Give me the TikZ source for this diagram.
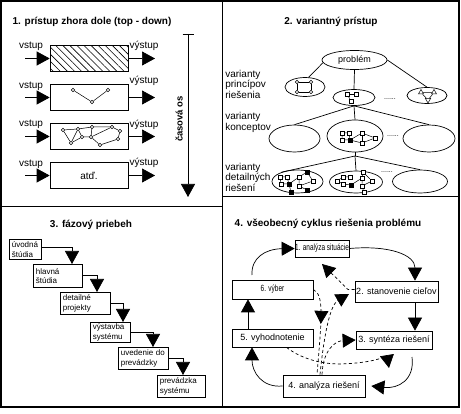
\documentclass[tikz,border=0pt]{standalone}
\usepackage{graphicx}
\usepackage{fontspec}
\setmainfont{Liberation Sans}
\usetikzlibrary{arrows.meta}
\usetikzlibrary{shapes.geometric}
\usetikzlibrary{patterns.meta}
\usetikzlibrary{decorations.markings}
\tikzset{
  bigtip/.style={-{Triangle[length=13pt,width=14pt]}},
  ->-/.style={decoration={
    markings,
    mark=at position .42 with {\arrow{Triangle[length=13pt,width=14pt]}}},postaction={decorate}},
  title/.style={font=\fontsize{10}{12}\selectfont\bfseries, inner sep=0pt},
  lbl/.style={font=\fontsize{10}{10.5}\selectfont, inner sep=0pt},
  blk/.style={draw, fill=white, minimum width=78pt, minimum height=26pt, inner sep=0pt, font=\fontsize{10}{11}\selectfont},
  dot/.style={circle, draw, fill=white, inner sep=0pt, minimum size=3.5pt, line width=0.5pt},
  sq/.style={rectangle, draw, fill=white, inner sep=0pt, minimum size=4pt, line width=0.5pt},
  fsq/.style={sq, fill=black},
  tri/.style={regular polygon, regular polygon sides=3, draw, fill=white, inner sep=0pt, minimum size=6pt, line width=0.5pt},
  oval/.style={ellipse, draw, inner sep=0pt, font=\fontsize{9}{10}\selectfont},
  phase/.style={draw, align=left, anchor=north west, inner xsep=2.5pt, inner ysep=0pt, font=\fontsize{8}{9.5}\selectfont},
  cyc/.style={draw, inner sep=0pt, font=\fontsize{9}{10}\selectfont},
  dsh/.style={dashed, dash pattern=on 3pt off 2.5pt},
  dotsep/.style={inner sep=0pt, font=\fontsize{7}{8}\selectfont}
}
\newcommand{\narrowtext}[1]{\scalebox{0.72}[1]{#1}}

\begin{document}
\begin{tikzpicture}[x=1pt,y=-1pt,line width=0.7pt]
  \useasboundingbox (0,0) rectangle (461,414);

  % frame
  \draw[line width=2pt] (1,1) rectangle (459,407);
  \draw (222,1) -- (222,407);
  \draw (1,206.5) -- (222,206.5);
  \draw (222,196.5) -- (459,196.5);

  % 1. top - down
  \node[title] (t1) at (92,22) {1. prístup zhora dole (top - down)};

  \node[blk, pattern={Lines[angle=-45,distance=5pt,line width=0.6pt]}] (box1) at (89,58.5) {};
  \node[blk] (box2) at (89,97.5) {};
  \node[blk] (box3) at (89,136.5) {};
  \node[blk] (box4) at (89,175.5) {atď.};

  \coordinate (in1) at (25,58.5);
  \coordinate (in2) at (25,97.5);
  \coordinate (in3) at (25,136.5);
  \coordinate (in4) at (25,175.5);
  \coordinate (out1) at (155,58.5);
  \coordinate (out2) at (155,97.5);
  \coordinate (out3) at (155,136.5);
  \coordinate (out4) at (155,175.5);

  \draw[bigtip] (in1) -- (box1);
  \draw[bigtip] (in2) -- (box2);
  \draw[bigtip] (in3) -- (box3);
  \draw[bigtip] (in4) -- (box4);
  \draw[bigtip] (box1) -- (out1);
  \draw[bigtip] (box2) -- (out2);
  \draw[bigtip] (box3) -- (out3);
  \draw[bigtip] (box4) -- (out4);

  \node[lbl] (vin1) at (31,46) {vstup};
  \node[lbl] (vin2) at (31,86) {vstup};
  \node[lbl] (vin3) at (31,124) {vstup};
  \node[lbl] (vin4) at (31,164) {vstup};
  \node[lbl] (vout1) at (144,46) {výstup};
  \node[lbl] (vout2) at (144,81) {výstup};
  \node[lbl] (vout3) at (144,125) {výstup};
  \node[lbl] (vout4) at (144,163) {výstup};

  % simple net
  \node[dot] (ga) at (73,90) {};
  \node[dot] (gb) at (108,90) {};
  \node[dot] (gc) at (92,102) {};
  \draw[line width=0.5pt] (ga) -- (gc) -- (gb);

  % tangled net
  \node[dot] (h1) at (63,130) {};
  \node[dot] (h2) at (78,129) {};
  \node[dot] (h3) at (92,127) {};
  \node[dot] (h4) at (112,127) {};
  \node[dot] (h5) at (120,131) {};
  \node[dot] (h6) at (118,139) {};
  \node[dot] (h7) at (100,145) {};
  \node[dot] (h8) at (71,143) {};
  \node[dot] (h9) at (82,137) {};
  \node[dot] (h10) at (91,137) {};
  \draw[line width=0.5pt] (h1) -- (h2) -- (h3) -- (h4) -- (h5) -- (h6) -- (h7);
  \draw[line width=0.5pt] (h1) -- (h8) -- (h2) -- (h9) -- (h10) -- (h4);
  \draw[line width=0.5pt] (h3) -- (h10) -- (h7);
  \draw[line width=0.5pt] (h8) -- (h9);

  % time axis
  \coordinate (ttop) at (188,34);
  \coordinate (tbot) at (188,197);
  \draw ([xshift=-5.5pt]ttop) -- ([xshift=5.5pt]ttop);
  \draw[bigtip] (ttop) -- (tbot);
  \node[title, rotate=90, font=\fontsize{9.5}{11}\selectfont\bfseries] (tlabel) at (179,119) {časová os};

  % 2. variants
  \node[title] (t2) at (331,22) {2. variantný prístup};

  \node[oval, minimum width=65pt, minimum height=19pt] (prob) at (354.5,60) {problém};
  \node[oval, minimum width=40pt, minimum height=19pt] (ua) at (305,87) {};
  \node[oval, minimum width=42pt, minimum height=16pt] (ub) at (354,97.5) {};
  \node[oval, minimum width=40pt, minimum height=16pt] (uc) at (427,95.5) {};
  \node[oval, minimum width=51pt, minimum height=27pt] (ka) at (294.5,138.5) {};
  \node[oval, minimum width=56pt, minimum height=32pt] (kb) at (355,136) {};
  \node[oval, minimum width=52pt, minimum height=27pt] (kc) at (429,138.5) {};
  \node[oval, minimum width=51pt, minimum height=23pt] (da) at (297.5,181.5) {};
  \node[oval, minimum width=53pt, minimum height=22pt] (db) at (356,182) {};
  \node[oval, minimum width=55pt, minimum height=23pt] (dc) at (420,181.5) {};

  \draw (prob.185) -- (ua.70);
  \draw (prob.south) -- (ub.north);
  \draw (prob.east) -- (uc.north);
  \draw (ub.south) -- (ka.north);
  \draw (ub.south) -- (kb.north);
  \draw (ub.south) -- (kc.north);
  \coordinate (fork) at (355,156);
  \draw (kb.south) -- (fork);
  \draw (fork) -- (da.150);
  \draw (fork) -- (db.north);
  \draw (fork) -- (dc.north);

  \node[dotsep] (dots1) at (390,99) {......};
  \node[dotsep] (dots2) at (393,136) {......};
  \node[dotsep] (dots3) at (387,172) {......};

  \node[lbl, anchor=west, align=left] (vp) at (225,84) {varianty\\princípov\\riešenia};
  \node[lbl, anchor=west, align=left] (vk) at (225,122.5) {varianty\\konceptov};
  \node[lbl, anchor=west, align=left] (vd) at (225,177) {varianty\\detailných\\riešení};

  % principles
  \node[dot] (pa) at (297,82) {};
  \node[dot] (pb) at (311,82) {};
  \node[dot] (pc) at (297,92) {};
  \node[dot] (pd) at (311,92) {};
  \draw[line width=0.5pt] (pa) -- (pb) -- (pd) -- (pc) -- (pa);
  \node[sq] (sa) at (347,94) {};
  \node[sq] (sb) at (356,94) {};
  \node[sq] (sc) at (351,101) {};
  \draw[line width=0.5pt] (sa) -- (sb);
  \draw[line width=0.5pt] (sa) -- (sc);
  \node[tri] (ta) at (421,92.5) {};
  \node[tri] (tb) at (434,92.5) {};
  \node[tri, shape border rotate=180] (tc) at (428,100) {};
  \draw[line width=0.5pt] (ta) -- (tb) -- (tc) -- (ta);

  % concept
  \node[sq] (k1) at (342,133) {};
  \node[sq] (k2) at (349,133) {};
  \node[sq] (k3) at (342,140) {};
  \node[fsq] (k4) at (350,140) {};
  \node[sq] (k5) at (362,133) {};
  \node[sq] (k6) at (362,143) {};
  \node[sq] (k7) at (375,138) {};
  \draw[line width=0.5pt] (k1) -- (k2) -- (k4) -- (k3) -- (k1);
  \draw[line width=0.5pt] (k4) -- (k5) -- (k7) -- (k6) -- (k4);
  \draw[line width=0.5pt] (k5) -- (k6);

  % detailed
  \node[sq] (q1) at (280,177) {};
  \node[sq] (q2) at (287,177) {};
  \node[sq] (q3) at (281,184) {};
  \node[fsq] (q4) at (289,184) {};
  \node[sq] (q5) at (299,177) {};
  \node[fsq] (q6) at (307,172) {};
  \node[sq] (q7) at (299,186) {};
  \node[sq] (q8) at (313,181) {};
  \node[fsq] (q9) at (291,192) {};
  \node[fsq] (q10) at (307,190) {};
  \draw[line width=0.5pt] (q1) -- (q2) -- (q4) -- (q3) -- (q1);
  \draw[line width=0.5pt] (q4) -- (q5) -- (q6) -- (q8) -- (q7) -- (q5);
  \draw[line width=0.5pt] (q4) -- (q9);
  \draw[line width=0.5pt] (q7) -- (q10);

  \node[sq] (r1) at (337,181) {};
  \node[sq] (r2) at (343,177) {};
  \node[sq] (r3) at (350,177) {};
  \node[sq] (r4) at (343,184) {};
  \node[fsq] (r5) at (351,185) {};
  \node[sq] (r6) at (362,178) {};
  \node[sq] (r7) at (363,172) {};
  \node[sq] (r8) at (362,186) {};
  \node[sq] (r9) at (372,181) {};
  \node[sq] (r10) at (364,192) {};
  \draw[line width=0.5pt] (r1) -- (r2) -- (r3);
  \draw[line width=0.5pt] (r1) -- (r4) -- (r5) -- (r6) -- (r7);
  \draw[line width=0.5pt] (r6) -- (r8) -- (r9) -- (r7);
  \draw[line width=0.5pt] (r8) -- (r10);

  % 3. phases
  \node[title] (t3) at (91,225) {3. fázový priebeh};

  \node[phase, text width=27pt, minimum height=20pt] (p1) at (9,239) {úvodná\\štúdia};
  \node[phase, text width=44pt, minimum height=23pt] (p2) at (33,264) {hlavná\\štúdia};
  \node[phase, text width=45pt, minimum height=22pt] (p3) at (60,292) {detailné\\projekty};
  \node[phase, text width=35pt, minimum height=20pt] (p4) at (90,322) {výstavba\\systému};
  \node[phase, text width=45pt, minimum height=22pt] (p5) at (118,347) {uvedenie do\\prevádzky};
  \node[phase, text width=43pt, minimum height=22pt] (p6) at (157,375) {prevádzka\\systému};

  \draw[bigtip] ([yshift=2pt]p1.east) -| ([xshift=39pt]p2.north west);
  \draw[bigtip] (p2.east) -| ([xshift=37pt]p3.north west);
  \draw[bigtip] (p3.east) -| ([xshift=33pt]p4.north west);
  \draw[bigtip] (p4.east) -| ([xshift=35pt]p5.north west);
  \draw[bigtip] (p5.east) -| ([xshift=26pt]p6.north west);

  % 4. cycle
  \node[title] (t4) at (328,224) {4. všeobecný cyklus riešenia problému};

  \node[cyc, minimum width=54pt, minimum height=17pt] (a1) at (322,248.5) {\narrowtext{1. analýza situácie}};
  \node[cyc, minimum width=83pt, minimum height=21pt] (a2) at (396.5,291.5) {2. stanovenie cieľov};
  \node[cyc, minimum width=76pt, minimum height=18pt] (a3) at (394,340) {3. syntéza riešení};
  \node[cyc, minimum width=82pt, minimum height=22pt] (a4) at (324,386) {4. analýza riešení};
  \node[cyc, minimum width=81pt, minimum height=18pt] (a5) at (272.5,338) {5. vyhodnotenie};
  \node[cyc, minimum width=81pt, minimum height=19pt] (a6) at (272.5,289.5) {\narrowtext{6. výber}};

  \coordinate (c3) at (412,357);
  \coordinate (c6) at (252,275);
  \draw[bigtip] (a1.east) .. controls (390,245) and (415,255) .. ([xshift=18.5pt]a2.north);
  \draw[bigtip] ([xshift=18.5pt]a2.south) -- ([xshift=21pt]a3.north);
  \draw[bigtip] (c3) .. controls (415,380) and (398,389) .. ([xshift=6pt]a4.east);
  \draw[bigtip] (a4.west) .. controls (262,388) and (252,372) .. ([xshift=-20.5pt]a5.south);
  \draw[bigtip] ([xshift=-24.5pt]a5.north) -- ([xshift=-24.5pt]a6.south);
  \draw[bigtip] (c6) .. controls (251,258) and (265,249) .. (a1.west);

  % feedback
  \coordinate (f1) at (322,264);
  \coordinate (f5) at (389,368);
  \draw[dsh, bigtip] ([yshift=2pt]a2.west) -- (348,289.5) -- (f1);
  \draw[dsh, bigtip] ([xshift=-4pt]a4.north) .. controls (324,335) and (330,305) .. (349,294);
  \draw[dsh, bigtip] ([xshift=-2pt]a4.north) .. controls (323,350) and (335,341) .. (a3.west);
  \draw[dsh, ->-] (a6.east) .. controls (324,295) and (322,315) .. ([xshift=-7pt]a4.north);
  \draw[dsh, bigtip] ([xshift=14pt]a5.south) .. controls (300,358) and (320,364) .. (340,364) .. controls (375,363) and (387,356) .. (f5);

\end{tikzpicture}
\end{document}
